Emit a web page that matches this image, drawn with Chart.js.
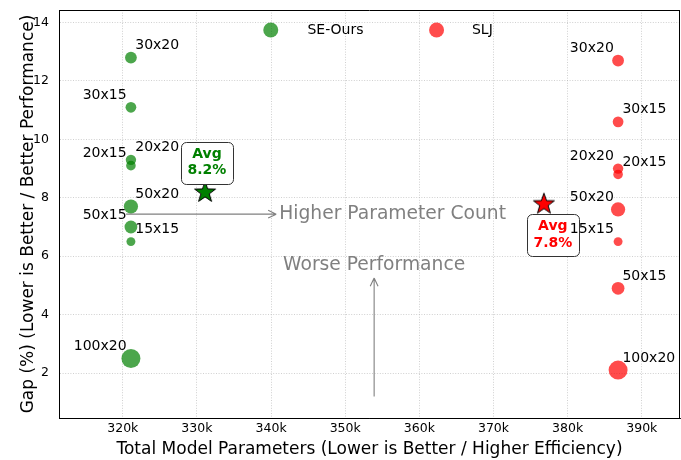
<!DOCTYPE html>
<html>
<head>
<meta charset="utf-8">
<script src="https://cdn.jsdelivr.net/npm/chart.js@4.4.1/dist/chart.umd.min.js"></script>
<style>
  html, body { margin: 0; padding: 0; background: #fff; }
</style>
</head>
<body>
<canvas id="chart" width="681" height="460"></canvas>
<script>
// instance sizes (jobs x machines) and the gap each model reaches
const instances = ['30x20', '30x15', '20x20', '20x15', '50x20', '50x15', '15x15', '100x20'];
const seOursGap = [12.8, 11.1, 9.3, 9.1, 7.7, 7.0, 6.5, 2.5];
const sljGap = [12.7, 10.6, 9.0, 8.8, 7.6, 4.9, 6.5, 2.1];
// parameter counts, in thousands
const seOursParams = [321.1, 321.1, 321.1, 321.1, 321.1, 321.1, 321.1, 321.1];
const sljParams = [386.8, 386.8, 386.8, 386.8, 386.8, 386.8, 386.8, 386.8];
const avgParams = [331.1, 376.8];
const avgGap = [8.2, 7.8];
const seriesNames = ['SE-Ours', 'SLJ'];
const xTickStep = 10;
const yTickStep = 2;

const FONT = '"DejaVu Sans", "Liberation Sans", sans-serif';
const GREEN = 'rgba(0,128,0,0.7)';
const RED = 'rgba(255,0,0,0.7)';

// marker area grows with instance size (n*m)
const radiusFor = name => {
    const [n, m] = name.split('x').map(Number);
    return Math.sqrt(20 + 70 * (n * m - 225) / 1775);
};

const makeStar = (fill) => {
    const c = document.createElement('canvas');
    c.width = 26; c.height = 26;
    const g = c.getContext('2d');
    const R = 11, r = 4.4;
    g.beginPath();
    for (let i = 0; i < 10; i++) {
        const rad = i % 2 === 0 ? R : r;
        const a = -Math.PI / 2 + i * Math.PI / 5;
        const px = 13 + rad * Math.cos(a), py = 13.5 + rad * Math.sin(a);
        i === 0 ? g.moveTo(px, py) : g.lineTo(px, py);
    }
    g.closePath();
    g.fillStyle = fill;
    g.fill();
    g.lineWidth = 1;
    g.strokeStyle = '#000';
    g.stroke();
    return c;
};

const toPoints = (xs, ys) => xs.map((x, i) => ({ x: x, y: ys[i] }));

// fixed axis sizes so the plot area lands where the original has it
const fixBox = size => s => {
    if (s.isHorizontal()) s.height = size; else s.width = size;
    s.paddingTop = s.paddingBottom = s.paddingLeft = s.paddingRight = 0;
};

const overlay = {
    id: 'overlay',
    afterDatasetsDraw(chart) {
        const ctx = chart.ctx;
        const a = chart.chartArea;
        const xs = chart.scales.x, ys = chart.scales.y;
        ctx.save();

        // top and right spines
        ctx.strokeStyle = '#000';
        ctx.lineWidth = 1;
        ctx.beginPath();
        ctx.moveTo(a.left, Math.round(a.top) + 0.5);
        ctx.lineTo(a.right, Math.round(a.top) + 0.5);
        ctx.moveTo(Math.round(a.right) - 0.5, a.top);
        ctx.lineTo(Math.round(a.right) - 0.5, a.bottom);
        ctx.stroke();

        // gray arrows with their captions
        const arrow = (x1, y1, x2, y2) => {
            ctx.beginPath();
            ctx.moveTo(x1, y1);
            ctx.lineTo(x2, y2);
            const ang = Math.atan2(y2 - y1, x2 - x1);
            [0.45, -0.45].forEach(d => {
                ctx.moveTo(x2, y2);
                ctx.lineTo(x2 - 9 * Math.cos(ang + d), y2 - 9 * Math.sin(ang + d));
            });
            ctx.stroke();
        };
        ctx.strokeStyle = '#808080';
        ctx.fillStyle = '#808080';
        ctx.lineWidth = 1.1;
        const hy = ys.getPixelForValue(7.44);
        const hx2 = xs.getPixelForValue(340.7);
        arrow(xs.getPixelForValue(320.45), hy, hx2, hy);
        ctx.font = '18.7px ' + FONT;
        ctx.textAlign = 'left';
        ctx.textBaseline = 'middle';
        ctx.fillText('Higher Parameter Count', hx2 + 3, hy);

        const vx = xs.getPixelForValue(353.9);
        const vTop = ys.getPixelForValue(5.25);
        arrow(vx, ys.getPixelForValue(1.2), vx, vTop);
        ctx.textAlign = 'center';
        ctx.fillText('Worse Performance', vx, vTop - 13);

        // average boxes
        const boxes = [
            { color: '#008000', dx: 1.9, dy: -29.3 },
            { color: '#ff0000', dx: 8.9, dy: 31.2 }
        ];
        [0, 1].forEach(di => {
            const el = chart.getDatasetMeta(di).data[0];
            const b = boxes[di];
            const cx = el.x + b.dx, cy = el.y + b.dy;
            const w = 51.7, h = 41.7;
            ctx.beginPath();
            ctx.roundRect(Math.round(cx - w / 2) + 0.5, Math.round(cy - h / 2) + 0.5, Math.round(w), Math.round(h), 5);
            ctx.fillStyle = '#fff';
            ctx.fill();
            ctx.strokeStyle = '#333';
            ctx.lineWidth = 1;
            ctx.stroke();
            ctx.fillStyle = b.color;
            ctx.font = 'bold 14px ' + FONT;
            ctx.textAlign = 'center';
            ctx.fillText('Avg', cx, cy - 8.2);
            ctx.fillText(avgGap[di].toFixed(1) + '%', cx, cy + 8.2);
        });

        // instance labels next to each point
        const leftSide = [
            ['30x15', '20x15', '50x15', '100x20'],
            ['30x20', '20x20', '50x20', '15x15']
        ];
        ctx.fillStyle = '#000';
        ctx.font = '14px ' + FONT;
        [2, 3].forEach((di, s) => {
            chart.getDatasetMeta(di).data.forEach((el, j) => {
                const name = instances[j];
                const left = leftSide[s].includes(name);
                ctx.textAlign = left ? 'right' : 'left';
                ctx.fillText(name, el.x + (left ? -4.3 : 4.3), el.y - 12);
            });
        });

        // legend inside the plot
        const legend = [
            { name: seriesNames[0], color: GREEN, fx: 0.341, tx: 0.400 },
            { name: seriesNames[1], color: RED, fx: 0.608, tx: 0.665 }
        ];
        ctx.font = '14px ' + FONT;
        ctx.textAlign = 'left';
        legend.forEach(l => {
            const lx = a.left + l.fx * (a.right - a.left);
            ctx.beginPath();
            ctx.arc(lx, a.top + 20, 7.5, 0, Math.PI * 2);
            ctx.fillStyle = l.color;
            ctx.fill();
            ctx.fillStyle = '#000';
            ctx.fillText(l.name, a.left + l.tx * (a.right - a.left), a.top + 20);
        });

        // axis titles
        ctx.font = '17px ' + FONT;
        ctx.fillStyle = '#000';
        ctx.textAlign = 'center';
        ctx.fillText('Total Model Parameters (Lower is Better / Higher Efficiency)', (a.left + a.right) / 2, 450);
        ctx.translate(29, (a.top + a.bottom) / 2);
        ctx.rotate(-Math.PI / 2);
        ctx.fillText('Gap (%) (Lower is Better / Better Performance)', 0, 0);

        ctx.restore();
    }
};

new Chart(document.getElementById('chart').getContext('2d'), {
    type: 'scatter',
    data: {
        datasets: [
            {
                label: 'SE-Ours Avg',
                data: [{ x: avgParams[0], y: avgGap[0] }],
                pointStyle: makeStar('#008000'),
                pointRadius: 11
            },
            {
                label: 'SLJ Avg',
                data: [{ x: avgParams[1], y: avgGap[1] }],
                pointStyle: makeStar('#ff0000'),
                pointRadius: 11
            },
            {
                label: seriesNames[0],
                data: toPoints(seOursParams, seOursGap),
                backgroundColor: GREEN,
                borderWidth: 0,
                pointRadius: instances.map(radiusFor)
            },
            {
                label: seriesNames[1],
                data: toPoints(sljParams, sljGap),
                backgroundColor: RED,
                borderWidth: 0,
                pointRadius: instances.map(radiusFor)
            }
        ]
    },
    options: {
        responsive: false,
        animation: false,
        events: [],
        layout: { autoPadding: false, padding: { top: 10, right: 1, left: 0, bottom: 0 } },
        plugins: {
            legend: { display: false },
            tooltip: { enabled: false }
        },
        scales: {
            x: {
                type: 'linear',
                min: 311.4,
                max: 395.15,
                afterFit: fixBox(42),
                ticks: {
                    stepSize: xTickStep,
                    includeBounds: false,
                    maxRotation: 0,
                    padding: 3,
                    color: '#000',
                    font: { family: FONT, size: 12.5 },
                    callback: v => v + 'k'
                },
                grid: { color: 'rgba(176,176,176,0.75)', drawTicks: false, lineWidth: 0.8 },
                border: { color: '#000', width: 1, dash: [1, 1.6] }
            },
            y: {
                type: 'linear',
                min: 0.46,
                max: 14.43,
                afterFit: fixBox(59),
                ticks: {
                    stepSize: yTickStep,
                    includeBounds: false,
                    padding: 10,
                    color: '#000',
                    font: { family: FONT, size: 12.5 }
                },
                grid: { color: 'rgba(176,176,176,0.75)', drawTicks: false, lineWidth: 0.8 },
                border: { color: '#000', width: 1, dash: [1, 1.6] }
            }
        }
    },
    plugins: [overlay]
});
</script>
</body>
</html>
